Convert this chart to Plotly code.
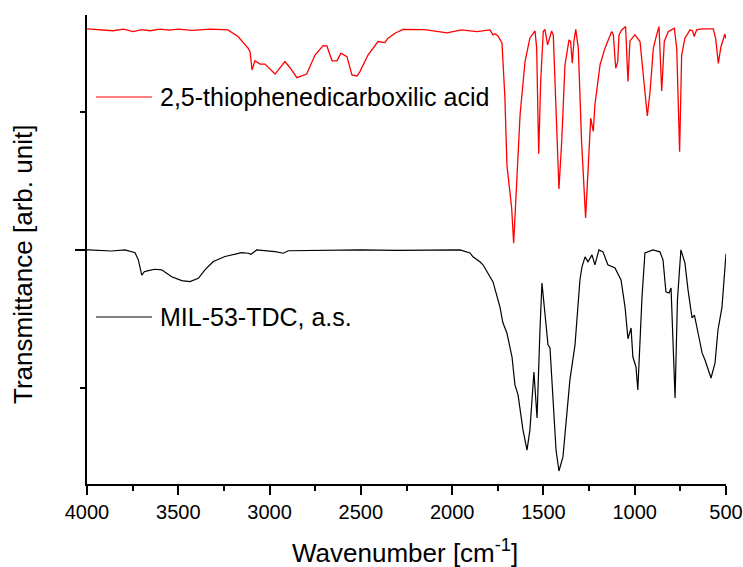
import plotly.graph_objects as go

# Wavenumber (cm^-1) and transmittance (arb. unit, stacked)
red_wn = [4000, 3950, 3858, 3800, 3748, 3700, 3655, 3600, 3550, 3500,
          3425, 3326, 3228, 3173, 3118, 3107, 3096, 3080, 3052, 3025,
          2970, 2916, 2888, 2850, 2817, 2797, 2751, 2707, 2686, 2658,
          2631, 2609, 2576, 2549, 2521, 2505, 2461, 2406, 2368, 2351,
          2313, 2269, 2150, 2028, 1950, 1864, 1793, 1776, 1765, 1749,
          1727, 1711, 1700, 1683, 1674, 1663, 1647, 1628, 1601, 1574,
          1546, 1537, 1526, 1515, 1501, 1492, 1477, 1455, 1446, 1431,
          1415, 1400, 1382, 1360, 1351, 1342, 1333, 1323, 1309, 1291,
          1269, 1254, 1241, 1227, 1218, 1190, 1163, 1126, 1117, 1104,
          1093, 1086, 1071, 1050, 1037, 1026, 999, 971, 953, 931,
          916, 898, 880, 867, 852, 838, 816, 783, 770, 761,
          754, 743, 725, 697, 683, 674, 661, 633, 570, 557,
          542, 528, 506, 500]
red_T = [180.1, 179.9, 179.4, 180.0, 179.1, 179.8, 179.4, 180.0, 179.6, 180.0,
         179.5, 180.0, 179.7, 177.3, 173.1, 171.8, 165.2, 168.5, 167.3, 167.3,
         163.7, 168.2, 166.0, 162.4, 163.1, 163.7, 170.6, 174.0, 173.9, 168.5,
         168.5, 171.3, 170.0, 163.4, 163.0, 164.6, 170.6, 175.5, 175.1, 176.7,
         178.5, 179.9, 179.8, 178.6, 179.7, 179.1, 179.7, 177.9, 178.3, 177.5,
         175.0, 155.1, 130.8, 119.9, 115.2, 102.4, 124.6, 148.9, 168.1, 176.8,
         179.3, 173.1, 134.8, 160.9, 179.1, 179.9, 174.3, 179.3, 177.9, 148.9,
         122.1, 139.2, 167.0, 176.1, 175.5, 167.6, 175.5, 179.9, 173.1, 139.2,
         111.6, 130.8, 147.7, 142.9, 152.5, 167.0, 173.1, 179.1, 177.9, 165.8,
         168.2, 177.9, 179.7, 180.9, 161.0, 175.7, 177.9, 175.5, 163.4, 148.5,
         157.4, 173.1, 177.9, 180.9, 157.6, 175.5, 179.1, 180.3, 173.1, 155.0,
         135.6, 170.6, 176.7, 179.7, 179.3, 177.3, 179.7, 180.1, 180.1, 176.7,
         167.6, 173.5, 178.2, 176.5]

black_wn = [4000, 3993, 3865, 3792, 3737, 3719, 3700, 3686, 3664, 3628,
            3591, 3536, 3481, 3436, 3390, 3354, 3308, 3244, 3153, 3117,
            3102, 3071, 2970, 2925, 2897, 2700, 2500, 2300, 2100, 1957,
            1902, 1886, 1848, 1831, 1776, 1738, 1722, 1700, 1672, 1656,
            1639, 1612, 1590, 1574, 1552, 1535, 1519, 1508, 1492, 1475,
            1464, 1448, 1431, 1415, 1393, 1355, 1327, 1300, 1289, 1272,
            1256, 1234, 1218, 1196, 1174, 1147, 1108, 1075, 1053, 1037,
            1020, 1010, 993, 983, 960, 944, 900, 862, 845, 829,
            812, 801, 790, 779, 766, 747, 725, 708, 686, 673,
            653, 631, 615, 582, 560, 544, 522, 500]
black_T = [100, 100, 99.6, 100, 99.0, 96.4, 90.9, 92.1, 92.5, 93.0,
           92.8, 90.3, 88.9, 88.5, 89.7, 92.8, 95.8, 97.6, 99.0, 98.8,
           98.4, 100, 99.4, 98.8, 99.7, 99.8, 100, 99.8, 100, 100,
           98.9, 97.5, 95.7, 94.6, 88.4, 79.3, 73.6, 69.9, 61.2, 51.1,
           47.5, 34.8, 27.5, 34.8, 55.8, 39.1, 71.0, 88.0, 77.2, 65.6,
           64.5, 46.7, 27.5, 19.9, 25.0, 52.9, 65.6, 89.1, 93.8, 97.5,
           95.7, 98.2, 94.6, 100, 99.3, 94.6, 93.5, 89.1, 79.3, 67.8,
           71.7, 61.2, 57.6, 49.3, 83.0, 98.9, 100, 99.3, 96.4, 84.8,
           84.4, 86.2, 64.9, 46.4, 81.9, 100, 95.3, 85.5, 75.4, 76.4,
           69.9, 62.7, 60.1, 53.6, 59.1, 71.0, 79.3, 98.6]

red_name = "2,5-thiophenedicarboxilic acid"
black_name = "MIL-53-TDC, a.s."
x_ticks = [4000, 3500, 3000, 2500, 2000, 1500, 1000, 500]

FONT = "Liberation Sans, Arial, sans-serif"

fig = go.Figure()
fig.add_trace(go.Scatter(x=red_wn, y=red_T, mode="lines", name=red_name,
                         line=dict(color="#ff0000", width=1.3), showlegend=False))
fig.add_trace(go.Scatter(x=black_wn, y=black_T, mode="lines", name=black_name,
                         line=dict(color="#000000", width=1.2), showlegend=False))

# legend keys drawn manually to match original placement
for yk, col, txt in [(0.8252, "#ff0000", red_name), (0.3561, "#000000", black_name)]:
    fig.add_shape(type="line", xref="paper", yref="paper", x0=0.0141, x1=0.1017,
                  y0=yk, y1=yk, line=dict(color=col, width=1.2))
    fig.add_annotation(xref="paper", yref="paper", x=0.1111, y=yk, text=txt,
                       showarrow=False, xanchor="left", yanchor="middle",
                       font=dict(family=FONT, size=25, color="#000"))

fig.add_annotation(xref="paper", yref="paper", x=-0.1002, y=0.469,
                   text="Transmittance [arb. unit]", textangle=-90, showarrow=False,
                   xanchor="center", yanchor="middle",
                   font=dict(family=FONT, size=26, color="#000"))
fig.add_annotation(xref="paper", yref="paper", x=0.4977, y=-0.1429,
                   text="Wavenumber [cm<sup>-1</sup>]", showarrow=False,
                   xanchor="center", yanchor="middle",
                   font=dict(family=FONT, size=26, color="#000"))

fig.update_xaxes(range=[4000, 500], tickvals=x_ticks, ticks="outside", ticklen=9,
                 tickwidth=1.5, tickcolor="#000", showline=True, linewidth=2,
                 linecolor="#000", showgrid=False, zeroline=False, automargin=False,
                 tickfont=dict(family=FONT, size=20, color="#000"),
                 minor=dict(tick0=500, dtick=250, ticks="outside", ticklen=5,
                            tickwidth=1.5, tickcolor="#000", showgrid=False))
fig.update_yaxes(range=[15.2, 185.1], tick0=0, dtick=100, ticks="outside", ticklen=10,
                 tickwidth=1.5, tickcolor="#000", showline=True, linewidth=2,
                 linecolor="#000", showgrid=False, zeroline=False, automargin=False,
                 showticklabels=False,
                 minor=dict(tick0=0, dtick=50, ticks="outside", ticklen=5,
                            tickwidth=1.5, tickcolor="#000", showgrid=False))

fig.update_layout(width=743, height=567, margin=dict(l=87, r=17, t=15, b=83),
                  plot_bgcolor="white", paper_bgcolor="white",
                  font=dict(family=FONT, color="#000"))

fig.write_html("out.html", config={"displayModeBar": False},
               post_script="document.body.style.margin='0';document.body.style.overflow='hidden';")
